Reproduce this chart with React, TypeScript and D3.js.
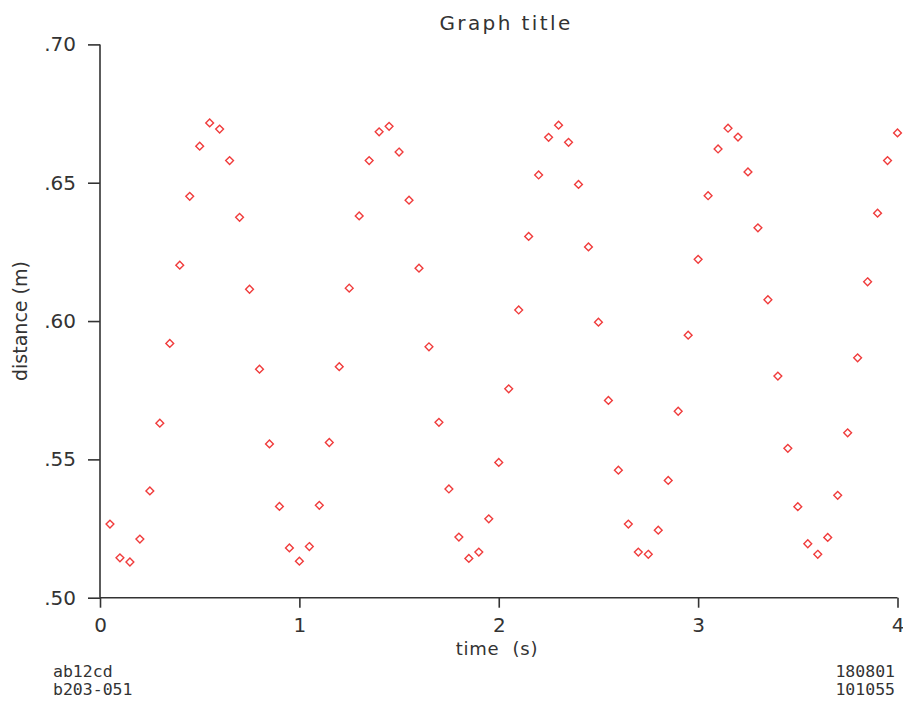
import React, { useEffect, useRef } from 'react';
import * as d3 from 'd3';

// time (s) of each sample
const times = [
  0.05, 0.10, 0.15, 0.20, 0.25, 0.30, 0.35, 0.40, 0.45, 0.50,
  0.55, 0.60, 0.65, 0.70, 0.75, 0.80, 0.85, 0.90, 0.95, 1.00,
  1.05, 1.10, 1.15, 1.20, 1.25, 1.30, 1.35, 1.40, 1.45, 1.50,
  1.55, 1.60, 1.65, 1.70, 1.75, 1.80, 1.85, 1.90, 1.95, 2.00,
  2.05, 2.10, 2.15, 2.20, 2.25, 2.30, 2.35, 2.40, 2.45, 2.50,
  2.55, 2.60, 2.65, 2.70, 2.75, 2.80, 2.85, 2.90, 2.95, 3.00,
  3.05, 3.10, 3.15, 3.20, 3.25, 3.30, 3.35, 3.40, 3.45, 3.50,
  3.55, 3.60, 3.65, 3.70, 3.75, 3.80, 3.85, 3.90, 3.95, 4.00,
];

// distance (m)
const distances = [
  0.5266, 0.5144, 0.5129, 0.5212, 0.5386, 0.5631, 0.5919, 0.6202, 0.6451, 0.6632,
  0.6716, 0.6694, 0.6580, 0.6375, 0.6115, 0.5826, 0.5556, 0.5330, 0.5180, 0.5132,
  0.5185, 0.5334, 0.5561, 0.5835, 0.6119, 0.6380, 0.6580, 0.6684, 0.6704, 0.6611,
  0.6437, 0.6191, 0.5907, 0.5634, 0.5393, 0.5219, 0.5142, 0.5165, 0.5285, 0.5489,
  0.5755, 0.6040, 0.6306, 0.6528, 0.6664, 0.6708, 0.6646, 0.6494, 0.6268, 0.5996,
  0.5713, 0.5461, 0.5266, 0.5165, 0.5157, 0.5244, 0.5424, 0.5674, 0.5949, 0.6223,
  0.6453, 0.6622, 0.6697, 0.6665, 0.6539, 0.6337, 0.6077, 0.5801, 0.5540, 0.5329,
  0.5195, 0.5157, 0.5218, 0.5370, 0.5596, 0.5867, 0.6142, 0.6390, 0.6580, 0.6680,
];

const xTicks = [0, 1, 2, 3, 4];
const yTicks = [0.5, 0.55, 0.6, 0.65, 0.7];
const yTickLabels = ['.50', '.55', '.60', '.65', '.70'];
const footLeft = ['ab12cd', 'b203-051'];
const footRight = ['180801', '101055'];

const W = 903;
const H = 702;

export default function App() {
  const svgRef = useRef<SVGSVGElement>(null);

  useEffect(() => {
    const svg = d3.select(svgRef.current);
    svg.selectAll('*').remove();

    const font = '"DejaVu Sans", sans-serif';
    const ink = '#333';

    const x = d3.scaleLinear().domain([0, 4]).range([100, 897.5]);
    const y = d3.scaleLinear().domain([0.5, 0.7]).range([597.7, 44.4]);

    svg.append('rect').attr('width', W).attr('height', H).attr('fill', '#fff');

    // axes
    const xAxis = d3.axisBottom(x)
      .tickValues(xTicks)
      .tickSize(10)
      .tickPadding(10)
      .tickFormat(d3.format('d') as any);
    const gx = svg.append('g').attr('transform', `translate(0,${y(0.5)})`).call(xAxis);
    gx.select('.domain').attr('d', `M${x(0)},0H${x(4)}`);

    const yAxis = d3.axisLeft(y)
      .tickValues(yTicks)
      .tickSize(12)
      .tickPadding(12)
      .tickFormat((d, i) => yTickLabels[i]);
    const gy = svg.append('g').attr('transform', `translate(${x(0)},0)`).call(yAxis);
    gy.select('.domain').attr('d', `M0,${y(0.7)}V${y(0.5)}`);

    svg.selectAll('.domain, .tick line')
      .attr('stroke', ink)
      .attr('stroke-width', 1.6);
    svg.selectAll('.tick text')
      .attr('fill', ink)
      .style('font-family', font)
      .style('font-size', '20px');

    // titles
    svg.append('text')
      .attr('x', 506).attr('y', 30)
      .attr('text-anchor', 'middle')
      .attr('fill', ink)
      .style('font-family', font).style('font-size', '20px')
      .style('letter-spacing', '2.4px')
      .text('Graph title');

    svg.append('text')
      .attr('x', 497).attr('y', 655)
      .attr('text-anchor', 'middle')
      .attr('fill', ink)
      .style('font-family', font).style('font-size', '18px')
      .style('letter-spacing', '0.8px')
      .style('white-space', 'pre')
      .text('time  (s)');

    svg.append('text')
      .attr('transform', `translate(27,${(y(0.5) + y(0.7)) / 2}) rotate(-90)`)
      .attr('text-anchor', 'middle')
      .attr('fill', ink)
      .style('font-family', font).style('font-size', '19px')
      .text('distance (m)');

    // footnotes
    const foot = svg.append('g')
      .style('font-family', '"DejaVu Sans Mono", monospace')
      .style('font-size', '16.5px')
      .attr('fill', ink);
    foot.selectAll('.fl').data(footLeft).enter().append('text')
      .attr('x', 53).attr('y', (d, i) => 677 + i * 18)
      .text(d => d);
    foot.selectAll('.fr').data(footRight).enter().append('text')
      .attr('x', 895).attr('y', (d, i) => 677 + i * 18)
      .attr('text-anchor', 'end')
      .text(d => d);

    // points: small open diamonds
    const r = 3.9;
    svg.append('g')
      .selectAll('path')
      .data(times.map((t, i) => [t, distances[i]]))
      .enter().append('path')
      .attr('transform', d => `translate(${x(d[0])},${y(d[1])})`)
      .attr('d', `M0,${-r}L${r},0L0,${r}L${-r},0Z`)
      .attr('fill', 'none')
      .attr('stroke', '#f03c3c')
      .attr('stroke-width', 1.4);
  }, []);

  return (
    <svg ref={svgRef} width={W} height={H} style={{ position: 'absolute', left: 0, top: 0 }} />
  );
}
